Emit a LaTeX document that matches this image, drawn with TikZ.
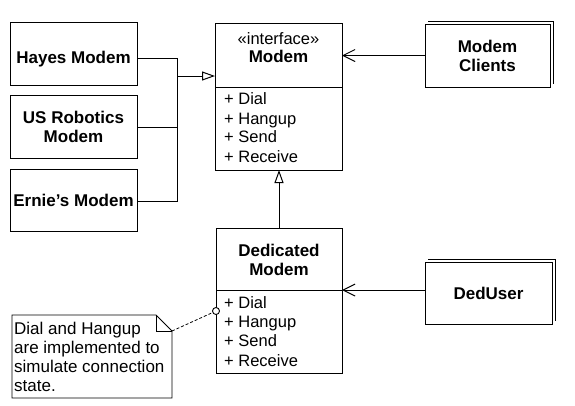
\documentclass[tikz,border=0pt]{standalone}
\usepackage{fontspec}
\setmainfont{Liberation Sans}
\usetikzlibrary{arrows.meta,calc}
\begin{document}
\begin{tikzpicture}[x=1pt,y=-1pt,
  box/.style={draw, line width=1pt, fill=white, inner sep=0pt, outer sep=0pt},
  btxt/.style={font=\bfseries\fontsize{17}{19}\selectfont, inner sep=0pt, align=center},
  rtxt/.style={font=\fontsize{16.5}{19}\selectfont, inner sep=0pt},
  ntxt/.style={font=\fontsize{17}{19}\selectfont, inner sep=0pt, anchor=base west},
  conn/.style={line width=1pt},
  gen/.style={conn, -{Triangle[open,length=13pt,width=9pt]}},
  nav/.style={conn, -{Straight Barb[length=12pt,width=12pt]}},
  note/.style={line width=0.8pt, dash pattern=on 3pt off 2pt},
]
\useasboundingbox (0,0) rectangle (575,405);
\fill[white] (0,0) rectangle (575,405);

% implementing classes
\node[box, minimum width=127pt, minimum height=63pt] (hayes) at (73.5,53.5) {};
\node[btxt, anchor=base] (hayest) at (73.5,63) {Hayes Modem};
\node[box, btxt, minimum width=127pt, minimum height=63pt] (usr) at (73.5,127) {US Robotics\\Modem};
\node[box, btxt, minimum width=127pt, minimum height=62pt] (ernie) at (73.5,200) {Ernie's Modem};

% interface Modem
\node[box, minimum width=127pt, minimum height=64pt] (mtop) at (278.5,55) {};
\node[box, minimum width=127pt, minimum height=83pt] (mbot) at (278.5,128.5) {};
\node[rtxt, anchor=base] (mst) at (278.5,44) {«interface»};
\node[btxt, anchor=base] (mname) at (278.5,62) {Modem};
\node[rtxt, anchor=base west] (m1) at (224,104.5) {+ Dial};
\node[rtxt, anchor=base west] (m2) at (224,124) {+ Hangup};
\node[rtxt, anchor=base west] (m3) at (224,142.5) {+ Send};
\node[rtxt, anchor=base west] (m4) at (224,162) {+ Receive};

% Dedicated Modem
\node[box, minimum width=126pt, minimum height=62pt] (dtop) at (279,259) {};
\node[box, minimum width=126pt, minimum height=83pt] (dbot) at (279,331.5) {};
\node[btxt, anchor=base] (dn1) at (279,256) {Dedicated};
\node[btxt, anchor=base] (dn2) at (279,275) {Modem};
\node[rtxt, anchor=base west] (d1) at (224,308) {+ Dial};
\node[rtxt, anchor=base west] (d2) at (224,327) {+ Hangup};
\node[rtxt, anchor=base west] (d3) at (224,346.5) {+ Send};
\node[rtxt, anchor=base west] (d4) at (224,366) {+ Receive};

% active classes (double top/right edges)
\draw[conn] (428,21) -- (553,21) -- (553,84);
\node[box, btxt, minimum width=125pt, minimum height=63pt] (clients) at (487.5,55.5) {Modem\\Clients};
\draw[conn] (428,259) -- (555,259) -- (555,321);
\node[box, btxt, minimum width=127pt, minimum height=62pt] (deduser) at (488.5,293) {DedUser};

% generalization tree
\coordinate (jt) at (177,58);
\coordinate (jb) at (177,201);
\coordinate (jm) at (177,76);
\draw[conn] ($(hayes.east)+(0,4.5)$) -- (jt) -- (jb) -- (ernie.east |- jb);
\draw[conn] (usr.east) -- (usr.east -| jt);
\draw[gen] (jm) -- (jm -| mtop.west);
\draw[gen] (dtop.north) -- (dtop.north |- mbot.south);

% navigability
\draw[nav] (clients.west) -- (clients.west -| mtop.east);
\draw[nav] (deduser.west |- dtop.south east) -- (dtop.south east);

% note
\draw[line width=0.9pt, fill=white] (12,315) -- (156,315) -- (172,331) -- (172,398) -- (12,398) -- cycle;
\draw[line width=0.9pt] (156,315) -- (156,331) -- (172,331);
\coordinate (notec) at (172,331);
\node[ntxt] (n1) at (14,334) {Dial and Hangup};
\node[ntxt] (n2) at (14,353) {are implemented to};
\node[ntxt] (n3) at (14,372) {simulate connection};
\node[ntxt] (n4) at (14,391) {state.};
\node[draw, line width=0.9pt, fill=white, circle, inner sep=0pt, minimum size=7pt] (circ) at (216,311) {};
\draw[note] (notec) -- (circ);
\end{tikzpicture}
\end{document}
